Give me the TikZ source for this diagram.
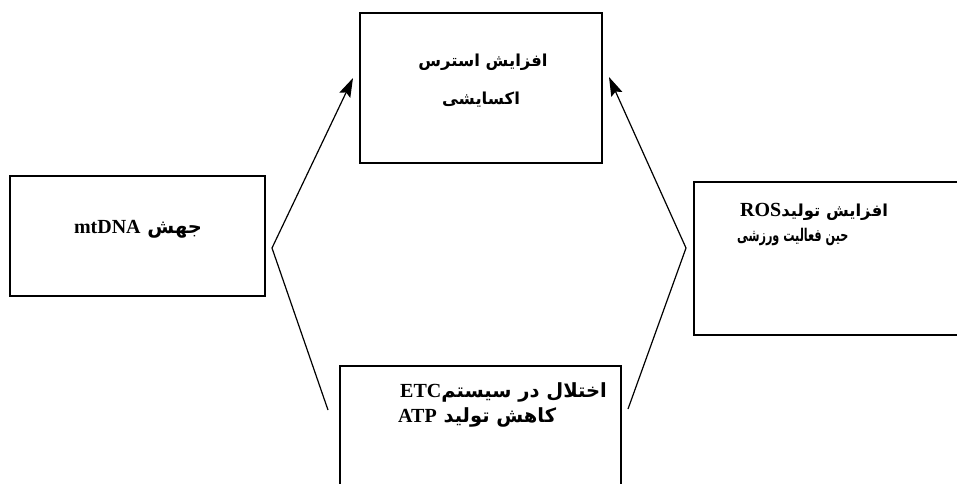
\documentclass[tikz,border=0pt]{standalone}
\usepackage{fontspec}
\usetikzlibrary{arrows.meta}
\TeXXeTstate=1
\setmainfont{Liberation Serif}
\newfontfamily\arabicfont[Script=Arabic]{DejaVu Sans}
\newfontfamily\arabicnarrow[Script=Arabic,FakeStretch=0.64]{DejaVu Sans Bold}
\newcommand{\lat}[1]{\beginL{\rmfamily\bfseries\fontsize{20}{22}\selectfont #1}\endL{}}
\begin{document}
\begin{tikzpicture}[x=1pt,y=-1pt,
  box/.style={draw, line width=1.1pt, inner sep=0pt},
  lbl/.style={font=\arabicfont\bfseries\fontsize{16.5}{20}\selectfont, inner sep=0pt},
  narrowlbl/.style={font=\arabicnarrow\fontsize{17.5}{20}\selectfont, inner sep=0pt},
  biglbl/.style={font=\arabicfont\bfseries\fontsize{19.5}{22}\selectfont, inner sep=0pt},
  conn/.style={line width=1.2pt},
  tip/.style={-{Stealth[length=19pt,width=12pt,inset=3pt]}}]
\useasboundingbox (0,0) rectangle (957,483);
\fill[white] (0,0) rectangle (957,483);
% boxes
\node[box, minimum width=242pt, minimum height=150pt] (top) at (481,88) {};
\node[box, minimum width=255pt, minimum height=120pt] (left) at (137.5,236) {};
\node[box, minimum width=271pt, minimum height=153pt] (right) at (829.5,258.5) {};
\node[box, minimum width=281pt, minimum height=129pt] (bottom) at (480.5,430.5) {};
% texts
\node[lbl] (t1) at (483,62) {\beginR افزایش استرس\endR};
\node[lbl] (t2) at (481,100) {\beginR اکسایشی\endR};
\node[biglbl] (l1) at (138,229) {\beginR جهش \lat{mtDNA}\endR};
\node[lbl, anchor=west] (r1) at (740,212) {\beginR افزایش تولید\lat{ROS}\endR};
\node[narrowlbl, anchor=west] (r2) at (737,237) {\beginR حین فعالیت ورزشی\endR};
\node[biglbl, anchor=west] (b1) at (400,392) {\beginR اختلال در سیستم\lat{ETC}\endR};
\node[biglbl, anchor=west] (b2) at (398,417) {\beginR کاهش تولید \lat{ATP}\endR};
% connectors
\coordinate (ls) at (328,410);
\coordinate (lv) at (272,248);
\coordinate (lt) at (353,78);
\coordinate (rs) at (628,409);
\coordinate (rv) at (686,248);
\coordinate (rt) at (609,77);
\draw[conn, tip] (ls) -- (lv) -- (lt);
\draw[conn, tip] (rs) -- (rv) -- (rt);
\end{tikzpicture}
\end{document}
